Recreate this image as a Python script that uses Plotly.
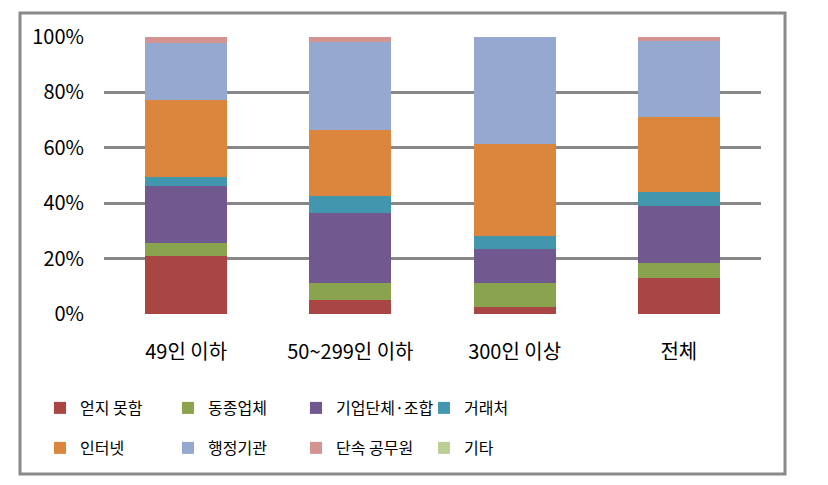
import plotly.graph_objects as go

categories = ["49인 이하", "50~299인 이하", "300인 이상", "전체"]
series_names = ["얻지 못함", "동종업체", "기업단체·조합", "거래처", "인터넷", "행정기관", "단속 공무원", "기타"]
v_failed = [20.8, 4.9, 2.6, 13.0]
v_same = [4.9, 6.3, 8.6, 5.5]
v_assoc = [20.6, 25.4, 12.1, 20.6]
v_client = [3.0, 6.1, 4.8, 4.8]
v_internet = [27.9, 23.6, 33.4, 27.2]
v_admin = [20.6, 32.0, 38.5, 27.3]
v_officer = [2.2, 1.7, 0.0, 1.6]
v_other = [0.0, 0.0, 0.0, 0.0]
series_values = [v_failed, v_same, v_assoc, v_client, v_internet, v_admin, v_officer, v_other]
colors = ["#A94543", "#8AA34E", "#71598F", "#4297AE", "#DC853C", "#95A8CF", "#D39391", "#B9CF96"]
y_ticks = [0, 20, 40, 60, 80, 100]
y_tick_labels = ["0%", "20%", "40%", "60%", "80%", "100%"]

FONT = "Noto Sans CJK KR"
OFF = 8  # default page body margin
W, H = 828 - OFF, 485 - OFF
L, R, T, B = 96, 67, 29, 171
pw, ph = W - L - R, H - T - B

fig = go.Figure()
for i, (name, vals, col) in enumerate(zip(series_names, series_values, colors)):
    fig.add_trace(go.Bar(
        x=categories, y=vals, name=name,
        marker=dict(color=col, line=dict(width=0)),
        legend="legend" if i < 4 else "legend2",
    ))

def px_x(x):
    return (x - OFF - L) / pw

def px_y(y):
    return (H - B - (y - OFF)) / ph

legend_common = dict(
    orientation="h", xanchor="left", yanchor="middle",
    entrywidth=83, entrywidthmode="pixels", itemwidth=30,
    font=dict(family=FONT, size=16, color="#000000"),
    bgcolor="rgba(0,0,0,0)", traceorder="normal",
)

fig.update_layout(
    width=W, height=H,
    margin=dict(l=L, r=R, t=T, b=B, autoexpand=False),
    paper_bgcolor="white", plot_bgcolor="white",
    barmode="stack", bargap=0.5,
    font=dict(family=FONT, color="#000000"),
    xaxis=dict(
        showgrid=False, zeroline=False, showline=False, ticks="",
        tickfont=dict(family=FONT, size=20, color="#000000"),
        ticklabelstandoff=24,
    ),
    yaxis=dict(
        range=[0, 100], tickvals=y_ticks, ticktext=y_tick_labels,
        showgrid=True, gridcolor="#878787", gridwidth=3,
        zeroline=False, showline=False, ticks="",
        tickfont=dict(family=FONT, size=20, color="#000000"),
        ticklabelstandoff=19,
    ),
    legend=dict(x=px_x(40), y=px_y(408), **legend_common),
    legend2=dict(x=px_x(40), y=px_y(448), **legend_common),
    showlegend=True,
    shapes=[dict(
        type="rect", xref="paper", yref="paper",
        x0=px_x(20), x1=px_x(785), y0=px_y(474), y1=px_y(13),
        line=dict(color="#8A8A8A", width=3), fillcolor="rgba(0,0,0,0)",
        layer="below",
    )],
)

fig.write_html("out.html")
